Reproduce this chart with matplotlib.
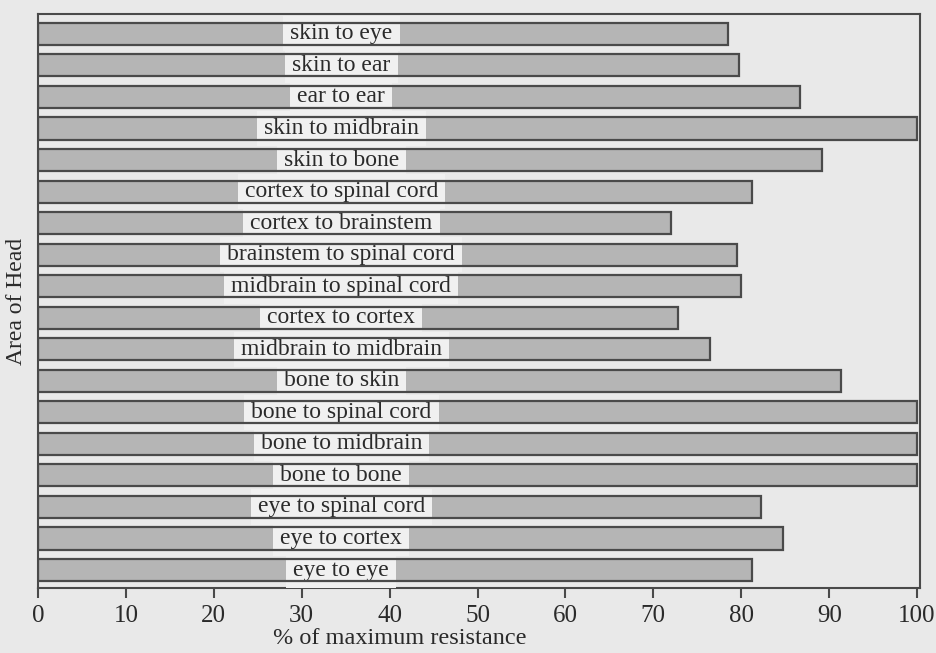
import matplotlib
matplotlib.use("Agg")
import matplotlib.pyplot as plt

# data, top to bottom as in the chart
areas = [
    "skin to eye", "skin to ear", "ear to ear", "skin to midbrain",
    "skin to bone", "cortex to spinal cord", "cortex to brainstem",
    "brainstem to spinal cord", "midbrain to spinal cord", "cortex to cortex",
    "midbrain to midbrain", "bone to skin", "bone to spinal cord",
    "bone to midbrain", "bone to bone", "eye to spinal cord",
    "eye to cortex", "eye to eye",
]
resistance = [
    78.5, 79.7, 86.7, 100, 89.2, 81.2, 72.0, 79.5, 80.0, 72.8,
    76.4, 91.3, 100, 100, 100, 82.2, 84.7, 81.2,
]
xticks = [0, 10, 20, 30, 40, 50, 60, 70, 80, 90, 100]

plt.rcParams['font.family'] = ['Liberation Serif', 'DejaVu Serif']
bg = '#e9e9e9'
frame = '#4a4a4a'

fig = plt.figure(figsize=(9.36, 6.53), dpi=100, facecolor=bg)
ax = fig.add_axes([0.0406, 0.0995, 0.9425, 0.879], facecolor=bg)

n = len(areas)
ypos = list(range(n - 1, -1, -1))
ax.barh(ypos, resistance, height=0.7, color='#b5b5b5',
        edgecolor='none', zorder=2)

# labels sit in light boxes in the middle of each bar
for y, name in zip(ypos, areas):
    ax.text(34.5, y, name, ha='center', va='center', fontsize=17,
            color='#2a2a2a', zorder=3,
            bbox=dict(boxstyle='square,pad=0.3', facecolor='#f0f0f0',
                      edgecolor='none'))

# bar outlines drawn again over the label boxes
ax.barh(ypos, resistance, height=0.7, color='none',
        edgecolor=frame, linewidth=1.6, zorder=4)

ax.set_xlim(0, 100.35)
ax.set_ylim(-0.57, n - 1 + 0.63)
ax.set_xticks(xticks)
ax.set_xticklabels([str(t) for t in xticks], fontsize=18, color='#2a2a2a')
ax.set_yticks([])
ax.tick_params(axis='x', direction='out', length=7, width=1.5,
               color=frame, pad=5)

for s in ax.spines.values():
    s.set_color(frame)
    s.set_linewidth(1.5)

ax.set_xlabel('% of maximum resistance', fontsize=17.5, color='#2a2a2a',
              labelpad=0)
ax.xaxis.set_label_coords(0.41, -0.069)
ax.set_ylabel('Area of Head', fontsize=17, color='#2a2a2a', labelpad=8)

fig.savefig('out.png', dpi=100, facecolor=bg)
